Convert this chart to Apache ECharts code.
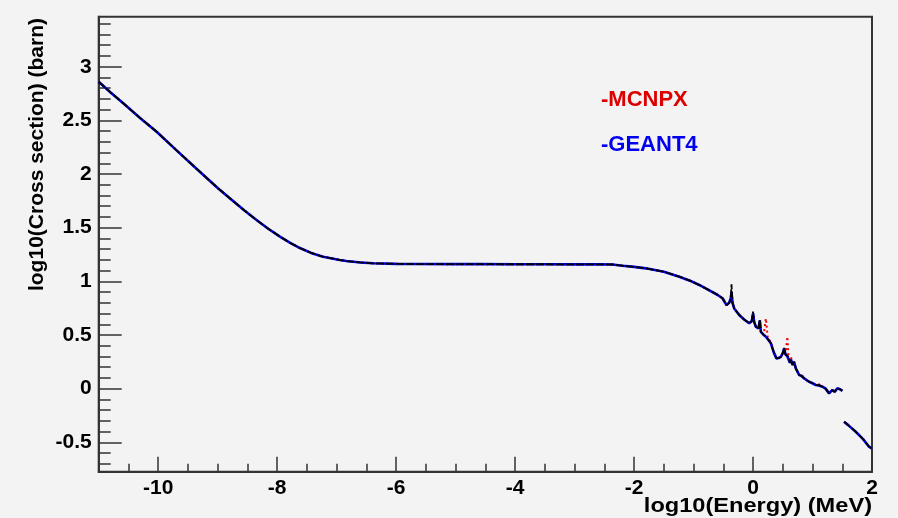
<!DOCTYPE html>
<html>
<head>
<meta charset="utf-8">
<title>Cross section vs energy</title>
<script src="https://cdn.jsdelivr.net/npm/echarts@6/dist/echarts.min.js"></script>
<style>
  html, body { margin: 0; padding: 0; background: #f3f3f3; }
  #chart { width: 898px; height: 518px; }
</style>
</head>
<body>
<div id="chart"></div>
<script>
// log10(E / MeV)
const energy = [
  -11.0, -10.8, -10.587, -10.3, -10.026, -9.7, -9.3, -9.0, -8.796, -8.55,
  -8.347, -8.15, -7.953, -7.788, -7.617, -7.43, -7.229, -6.949, -6.836, -6.6,
  -6.39, -6.0, -5.72, -5.0, -4.6, -4.0, -3.5, -3.0, -2.6, -2.365,
  -2.192, -2.0, -1.8, -1.5, -1.24, -1.061, -0.904, -0.75, -0.6, -0.513,
  -0.446, -0.4, -0.375, -0.362, -0.345, -0.316, -0.232, -0.15, -0.064, -0.02,
  0.0, 0.02, 0.048, 0.09, 0.115, 0.132, 0.18, 0.216, 0.25, 0.3,
  0.33, 0.355, 0.394, 0.43, 0.467, 0.5, 0.523, 0.545, 0.578, 0.595,
  0.62, 0.64, 0.663, 0.69, 0.719, 0.745, 0.775, 0.81, 0.859, 0.9,
  0.943, 1.0, 1.055, 1.11, 1.166, 1.22, 1.278, 1.3, 1.334, 1.37,
  1.418, 1.46, 1.502, 1.52, 1.53, 1.6, 1.727, 1.85, 1.95, 2.0
];

// log10(sigma / barn), GEANT4
const geant4 = [
  2.86, 2.76, 2.659, 2.52, 2.394, 2.225, 2.021, 1.87, 1.774, 1.66,
  1.571, 1.49, 1.416, 1.36, 1.31, 1.265, 1.229, 1.199, 1.189, 1.176,
  1.168, 1.163, 1.161, 1.16, 1.16, 1.159, 1.159, 1.158, 1.158, 1.157,
  1.145, 1.135, 1.121, 1.09, 1.043, 1.006, 0.966, 0.92, 0.875, 0.842,
  0.779, 0.8, 0.84, 0.9, 0.8, 0.747, 0.686, 0.645, 0.609, 0.63,
  0.7, 0.62, 0.577, 0.56, 0.635, 0.53, 0.5, 0.484, 0.46, 0.422,
  0.37, 0.329, 0.282, 0.285, 0.297, 0.33, 0.376, 0.32, 0.3, 0.297,
  0.24, 0.27, 0.22, 0.25, 0.189, 0.2, 0.127, 0.12, 0.096, 0.08,
  0.064, 0.05, 0.034, 0.03, 0.018, 0.0, -0.044, -0.03, -0.013, -0.03,
  0.003, -0.005, -0.02, null, -0.308, -0.34, -0.402, -0.47, -0.541, -0.56
];

// log10(sigma / barn), MCNPX
const mcnpx = [
  2.86, 2.76, 2.659, 2.52, 2.394, 2.225, 2.021, 1.87, 1.774, 1.66,
  1.571, 1.49, 1.416, 1.36, 1.31, 1.265, 1.229, 1.199, 1.189, 1.176,
  1.168, 1.163, 1.161, 1.16, 1.16, 1.159, 1.159, 1.158, 1.158, 1.157,
  1.145, 1.135, 1.121, 1.09, 1.043, 1.006, 0.966, 0.92, 0.875, 0.842,
  0.779, 0.8, 0.84, 0.88, 0.8, 0.747, 0.686, 0.645, 0.609, 0.63,
  0.69, 0.62, 0.577, 0.56, 0.6, 0.53, 0.5, 0.654, 0.46, 0.44,
  0.37, 0.329, 0.3, 0.285, 0.297, 0.33, 0.36, 0.32, 0.484, 0.297,
  0.24, 0.29, 0.22, 0.25, 0.189, 0.2, 0.127, 0.14, 0.096, 0.08,
  0.064, 0.05, 0.034, 0.04, 0.018, 0.0, -0.044, null, null, null,
  null, null, null, null, null, null, null, null, null, null
];

// log10(sigma / barn), evaluated data drawn in black
const evaluated = [
  2.86, 2.76, 2.659, 2.52, 2.394, 2.225, 2.021, 1.87, 1.774, 1.66,
  1.571, 1.49, 1.416, 1.36, 1.31, 1.265, 1.229, 1.199, 1.189, 1.176,
  1.168, 1.163, 1.161, 1.16, 1.16, 1.159, 1.159, 1.158, 1.158, 1.157,
  1.145, 1.135, 1.121, 1.09, 1.043, 1.006, 0.966, 0.92, 0.875, 0.842,
  0.779, 0.8, 0.84, 0.972, 0.8, 0.747, 0.686, 0.645, 0.609, 0.63,
  0.717, 0.62, 0.577, 0.56, 0.645, 0.53, 0.5, 0.49, 0.46, 0.422,
  0.37, 0.329, 0.282, 0.285, 0.297, 0.33, 0.38, 0.32, 0.31, 0.297,
  0.24, 0.27, 0.22, 0.25, 0.189, 0.2, 0.127, 0.12, 0.096, 0.08,
  0.064, 0.05, 0.034, 0.03, 0.018, 0.0, -0.044, -0.03, -0.013, -0.03,
  0.003, -0.005, -0.02, null, -0.308, -0.34, -0.402, -0.47, -0.541, -0.56
];

// Tick positions
const xMajorTicks = [-10, -8, -6, -4, -2, 0, 2];
const xMinorTicks = [-10.5, -9.5, -9, -8.5, -7.5, -7, -6.5, -5.5, -5, -4.5,
  -3.5, -3, -2.5, -1.5, -1, -0.5, 0.5, 1, 1.5];
const yMajorTicks = [-0.5, 0, 0.5, 1, 1.5, 2, 2.5, 3];
const yMinorTicks = [-0.7, -0.6, -0.4, -0.3, -0.2, -0.1, 0.1, 0.2, 0.3, 0.4,
  0.6, 0.7, 0.8, 0.9, 1.1, 1.2, 1.3, 1.4, 1.6, 1.7, 1.8, 1.9,
  2.1, 2.2, 2.3, 2.4, 2.6, 2.7, 2.8, 2.9, 3.1, 3.2, 3.3, 3.4];

const X_MIN = -11, X_MAX = 2;
const Y_MIN = -0.774, Y_MAX = 3.466;

const FONT = '"Liberation Sans", Arial, Helvetica, sans-serif';
const AXIS_COLOR = '#333333';

const pairs = (ys) => energy.map((x, i) => [x, ys[i]]);

const gridBox = { left: 98.7, right: 26, top: 16.7, bottom: 46.3 };

const chart = echarts.init(document.getElementById('chart'), null, { renderer: 'canvas' });

chart.setOption({
  animation: false,
  backgroundColor: '#f3f3f3',
  grid: [
    Object.assign({ show: true, borderColor: AXIS_COLOR, borderWidth: 2, backgroundColor: 'transparent' }, gridBox),
    Object.assign({ show: false }, gridBox)
  ],
  legend: {
    orient: 'vertical',
    left: 591,
    top: 84,
    itemGap: 23,
    icon: 'none',
    itemWidth: 0,
    selectedMode: false,
    formatter: '-{name}',
    textStyle: { fontFamily: FONT, fontWeight: 'bold', fontSize: 22 },
    data: [
      { name: 'MCNPX', textStyle: { color: '#dd0000' } },
      { name: 'GEANT4', textStyle: { color: '#0000ee' } }
    ]
  },
  xAxis: [
    {
      gridIndex: 0, type: 'value', min: X_MIN, max: X_MAX, position: 'bottom',
      axisLine: { show: true, onZero: false, lineStyle: { color: AXIS_COLOR, width: 2 } },
      axisTick: { inside: true, length: 15, customValues: xMajorTicks, lineStyle: { color: AXIS_COLOR, width: 1.5 } },
      axisLabel: { customValues: xMajorTicks, margin: 6, fontFamily: FONT, fontWeight: 'bold', fontSize: 21, color: '#000' },
      splitLine: { show: false }
    },
    {
      gridIndex: 1, type: 'value', min: X_MIN, max: X_MAX, position: 'bottom',
      axisLine: { show: false, onZero: false },
      axisTick: { inside: true, length: 8, customValues: xMinorTicks, lineStyle: { color: AXIS_COLOR, width: 1.5 } },
      axisLabel: { show: false },
      splitLine: { show: false }
    }
  ],
  yAxis: [
    {
      gridIndex: 0, type: 'value', min: Y_MIN, max: Y_MAX, position: 'left',
      axisLine: { show: true, onZero: false, lineStyle: { color: AXIS_COLOR, width: 2 } },
      axisTick: { inside: true, length: 23, customValues: yMajorTicks, lineStyle: { color: AXIS_COLOR, width: 1.5 } },
      axisLabel: { customValues: yMajorTicks, margin: 7, fontFamily: FONT, fontWeight: 'bold', fontSize: 21, color: '#000' },
      splitLine: { show: false }
    },
    {
      gridIndex: 1, type: 'value', min: Y_MIN, max: Y_MAX, position: 'left',
      axisLine: { show: false, onZero: false },
      axisTick: { inside: true, length: 12, customValues: yMinorTicks, lineStyle: { color: AXIS_COLOR, width: 1.5 } },
      axisLabel: { show: false },
      splitLine: { show: false }
    }
  ],
  graphic: [
    {
      type: 'text', x: 872, y: 506, scaleX: 1.18,
      style: {
        text: 'log10(Energy) (MeV)', fill: '#000',
        font: 'bold 20px ' + FONT, align: 'right', verticalAlign: 'middle'
      }
    },
    {
      type: 'text', x: 37, y: 18, rotation: Math.PI / 2,
      style: {
        text: 'log10(Cross section) (barn)', fill: '#000',
        font: 'bold 21px ' + FONT, align: 'right', verticalAlign: 'middle'
      }
    }
  ],
  series: [
    {
      name: 'MCNPX', type: 'line', xAxisIndex: 0, yAxisIndex: 0,
      data: pairs(mcnpx), showSymbol: false, connectNulls: false,
      lineStyle: { color: '#ee0000', width: 2, type: [2, 3] },
      itemStyle: { color: '#dd0000' }, z: 2
    },
    {
      name: 'GEANT4', type: 'line', xAxisIndex: 0, yAxisIndex: 0,
      data: pairs(geant4), showSymbol: false, connectNulls: false,
      lineStyle: { color: '#0000ee', width: 2.6 },
      itemStyle: { color: '#0000ee' }, z: 3
    },
    {
      name: 'Evaluated', type: 'line', xAxisIndex: 0, yAxisIndex: 0,
      data: pairs(evaluated), showSymbol: false, connectNulls: false,
      lineStyle: { color: '#000000', width: 1.8, type: [8, 2] },
      itemStyle: { color: '#000' }, z: 4
    }
  ]
});
</script>
</body>
</html>
